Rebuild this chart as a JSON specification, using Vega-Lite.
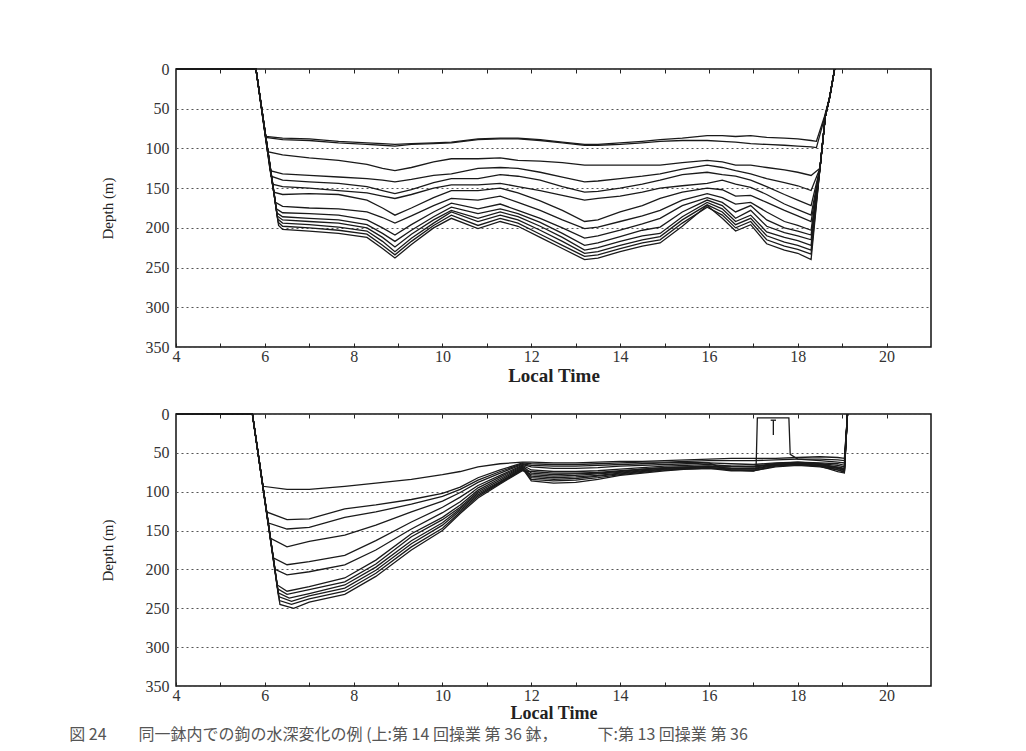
{
"$schema": "https://vega.github.io/schema/vega-lite/v6.json",
"background": "white",
"padding": {"left": 69, "top": 60, "right": 0, "bottom": 12},
"config": {
  "view": {"stroke": "#111", "strokeWidth": 1.5},
  "font": "Liberation Serif",
  "concat": {"spacing": 19},
  "axis": {"labelFont": "Liberation Serif", "labelFontSize": 16, "labelColor": "#333", "titleFont": "Liberation Serif", "titleColor": "#222"}
},
"title": {"text": "図 24　　同一鉢内での鉤の水深変化の例 (上:第 14 回操業 第 36 鉢，　　　下:第 13 回操業 第 36", "orient": "bottom", "anchor": "start", "font": "Noto Sans CJK JP", "fontSize": 16, "fontWeight": "normal", "color": "#555", "offset": 4, "dx": -30},
"datasets": {
"top": [
{"s":"T1","t":4,"d":0},{"s":"T1","t":5.8,"d":0},{"s":"T1","t":6.02,"d":85},{"s":"T1","t":6.4,"d":87},{"s":"T1","t":7,"d":88},{"s":"T1","t":7.66,"d":91},{"s":"T1","t":8.3,"d":93},{"s":"T1","t":8.65,"d":94},{"s":"T1","t":8.93,"d":95},{"s":"T1","t":9.3,"d":94},{"s":"T1","t":9.8,"d":93},{"s":"T1","t":10.2,"d":92},{"s":"T1","t":10.8,"d":88},{"s":"T1","t":11.3,"d":87},{"s":"T1","t":11.7,"d":87},{"s":"T1","t":12.2,"d":89},{"s":"T1","t":12.7,"d":92},{"s":"T1","t":13.2,"d":95},{"s":"T1","t":13.5,"d":95},{"s":"T1","t":14,"d":93},{"s":"T1","t":14.5,"d":91},{"s":"T1","t":14.9,"d":89},{"s":"T1","t":15.4,"d":87},{"s":"T1","t":15.96,"d":84},{"s":"T1","t":16.3,"d":84},{"s":"T1","t":16.6,"d":85},{"s":"T1","t":16.94,"d":84},{"s":"T1","t":17.3,"d":86},{"s":"T1","t":17.7,"d":87},{"s":"T1","t":18,"d":88},{"s":"T1","t":18.3,"d":90},{"s":"T1","t":18.42,"d":91},{"s":"T1","t":18.6,"d":60},{"s":"T1","t":18.72,"d":35},{"s":"T1","t":18.83,"d":0},
{"s":"T2","t":4,"d":0},{"s":"T2","t":5.8,"d":0},{"s":"T2","t":6.02,"d":86},{"s":"T2","t":6.4,"d":89},{"s":"T2","t":7,"d":90},{"s":"T2","t":7.66,"d":93},{"s":"T2","t":8.3,"d":95},{"s":"T2","t":8.65,"d":96},{"s":"T2","t":8.93,"d":97},{"s":"T2","t":9.3,"d":95},{"s":"T2","t":9.8,"d":94},{"s":"T2","t":10.2,"d":93},{"s":"T2","t":10.8,"d":89},{"s":"T2","t":11.3,"d":88},{"s":"T2","t":11.7,"d":88},{"s":"T2","t":12.2,"d":90},{"s":"T2","t":12.7,"d":93},{"s":"T2","t":13.2,"d":96},{"s":"T2","t":13.5,"d":96},{"s":"T2","t":14,"d":95},{"s":"T2","t":14.5,"d":93},{"s":"T2","t":14.9,"d":91},{"s":"T2","t":15.4,"d":90},{"s":"T2","t":15.96,"d":90},{"s":"T2","t":16.3,"d":91},{"s":"T2","t":16.6,"d":92},{"s":"T2","t":16.94,"d":94},{"s":"T2","t":17.3,"d":95},{"s":"T2","t":17.7,"d":96},{"s":"T2","t":18,"d":97},{"s":"T2","t":18.3,"d":98},{"s":"T2","t":18.42,"d":99},{"s":"T2","t":18.6,"d":62},{"s":"T2","t":18.72,"d":36},{"s":"T2","t":18.83,"d":0},
{"s":"T3","t":4,"d":0},{"s":"T3","t":5.8,"d":0},{"s":"T3","t":6.06,"d":104},{"s":"T3","t":6.4,"d":108},{"s":"T3","t":7,"d":112},{"s":"T3","t":7.66,"d":115},{"s":"T3","t":8.3,"d":120},{"s":"T3","t":8.65,"d":125},{"s":"T3","t":8.93,"d":128},{"s":"T3","t":9.3,"d":124},{"s":"T3","t":9.8,"d":117},{"s":"T3","t":10.2,"d":113},{"s":"T3","t":10.8,"d":113},{"s":"T3","t":11.3,"d":112},{"s":"T3","t":11.7,"d":115},{"s":"T3","t":12.2,"d":116},{"s":"T3","t":12.7,"d":118},{"s":"T3","t":13.2,"d":121},{"s":"T3","t":13.5,"d":121},{"s":"T3","t":14,"d":121},{"s":"T3","t":14.5,"d":121},{"s":"T3","t":14.9,"d":121},{"s":"T3","t":15.4,"d":118},{"s":"T3","t":15.96,"d":115},{"s":"T3","t":16.3,"d":117},{"s":"T3","t":16.6,"d":121},{"s":"T3","t":16.94,"d":121},{"s":"T3","t":17.3,"d":124},{"s":"T3","t":17.7,"d":127},{"s":"T3","t":18,"d":130},{"s":"T3","t":18.3,"d":134},{"s":"T3","t":18.5,"d":125},{"s":"T3","t":18.62,"d":60},{"s":"T3","t":18.72,"d":35},{"s":"T3","t":18.83,"d":0},
{"s":"T4","t":4,"d":0},{"s":"T4","t":5.8,"d":0},{"s":"T4","t":6.12,"d":128},{"s":"T4","t":6.4,"d":132},{"s":"T4","t":7,"d":134},{"s":"T4","t":7.66,"d":136},{"s":"T4","t":8.3,"d":138},{"s":"T4","t":8.65,"d":140},{"s":"T4","t":8.93,"d":142},{"s":"T4","t":9.3,"d":139},{"s":"T4","t":9.8,"d":134},{"s":"T4","t":10.2,"d":132},{"s":"T4","t":10.8,"d":125},{"s":"T4","t":11.3,"d":124},{"s":"T4","t":11.7,"d":125},{"s":"T4","t":12.2,"d":130},{"s":"T4","t":12.7,"d":136},{"s":"T4","t":13.2,"d":142},{"s":"T4","t":13.5,"d":141},{"s":"T4","t":14,"d":138},{"s":"T4","t":14.5,"d":135},{"s":"T4","t":14.9,"d":132},{"s":"T4","t":15.4,"d":126},{"s":"T4","t":15.96,"d":121},{"s":"T4","t":16.3,"d":124},{"s":"T4","t":16.6,"d":128},{"s":"T4","t":16.94,"d":132},{"s":"T4","t":17.3,"d":138},{"s":"T4","t":17.7,"d":143},{"s":"T4","t":18,"d":147},{"s":"T4","t":18.3,"d":153},{"s":"T4","t":18.5,"d":125},{"s":"T4","t":18.62,"d":60},{"s":"T4","t":18.72,"d":35},{"s":"T4","t":18.83,"d":0},
{"s":"T5","t":4,"d":0},{"s":"T5","t":5.8,"d":0},{"s":"T5","t":6.14,"d":135},{"s":"T5","t":6.4,"d":140},{"s":"T5","t":7,"d":142},{"s":"T5","t":7.66,"d":144},{"s":"T5","t":8.3,"d":148},{"s":"T5","t":8.65,"d":153},{"s":"T5","t":8.93,"d":157},{"s":"T5","t":9.3,"d":152},{"s":"T5","t":9.8,"d":143},{"s":"T5","t":10.2,"d":138},{"s":"T5","t":10.8,"d":138},{"s":"T5","t":11.3,"d":133},{"s":"T5","t":11.7,"d":135},{"s":"T5","t":12.2,"d":140},{"s":"T5","t":12.7,"d":148},{"s":"T5","t":13.2,"d":155},{"s":"T5","t":13.5,"d":154},{"s":"T5","t":14,"d":150},{"s":"T5","t":14.5,"d":145},{"s":"T5","t":14.9,"d":140},{"s":"T5","t":15.4,"d":133},{"s":"T5","t":15.96,"d":130},{"s":"T5","t":16.3,"d":133},{"s":"T5","t":16.6,"d":135},{"s":"T5","t":16.94,"d":140},{"s":"T5","t":17.3,"d":148},{"s":"T5","t":17.7,"d":158},{"s":"T5","t":18,"d":165},{"s":"T5","t":18.3,"d":172},{"s":"T5","t":18.5,"d":125},{"s":"T5","t":18.62,"d":60},{"s":"T5","t":18.72,"d":35},{"s":"T5","t":18.83,"d":0},
{"s":"T6","t":4,"d":0},{"s":"T6","t":5.8,"d":0},{"s":"T6","t":6.17,"d":145},{"s":"T6","t":6.4,"d":148},{"s":"T6","t":7,"d":150},{"s":"T6","t":7.66,"d":153},{"s":"T6","t":8.3,"d":156},{"s":"T6","t":8.65,"d":160},{"s":"T6","t":8.93,"d":163},{"s":"T6","t":9.3,"d":158},{"s":"T6","t":9.8,"d":150},{"s":"T6","t":10.2,"d":146},{"s":"T6","t":10.8,"d":146},{"s":"T6","t":11.3,"d":144},{"s":"T6","t":11.7,"d":148},{"s":"T6","t":12.2,"d":153},{"s":"T6","t":12.7,"d":159},{"s":"T6","t":13.2,"d":165},{"s":"T6","t":13.5,"d":163},{"s":"T6","t":14,"d":160},{"s":"T6","t":14.5,"d":155},{"s":"T6","t":14.9,"d":150},{"s":"T6","t":15.4,"d":147},{"s":"T6","t":15.96,"d":144},{"s":"T6","t":16.3,"d":140},{"s":"T6","t":16.6,"d":145},{"s":"T6","t":16.94,"d":149},{"s":"T6","t":17.3,"d":158},{"s":"T6","t":17.7,"d":170},{"s":"T6","t":18,"d":177},{"s":"T6","t":18.3,"d":184},{"s":"T6","t":18.5,"d":125},{"s":"T6","t":18.62,"d":60},{"s":"T6","t":18.72,"d":35},{"s":"T6","t":18.83,"d":0},
{"s":"T7","t":4,"d":0},{"s":"T7","t":5.8,"d":0},{"s":"T7","t":6.2,"d":155},{"s":"T7","t":6.4,"d":158},{"s":"T7","t":7,"d":157},{"s":"T7","t":7.66,"d":158},{"s":"T7","t":8.3,"d":165},{"s":"T7","t":8.65,"d":175},{"s":"T7","t":8.93,"d":184},{"s":"T7","t":9.3,"d":175},{"s":"T7","t":9.8,"d":162},{"s":"T7","t":10.2,"d":153},{"s":"T7","t":10.8,"d":153},{"s":"T7","t":11.3,"d":150},{"s":"T7","t":11.7,"d":156},{"s":"T7","t":12.2,"d":166},{"s":"T7","t":12.7,"d":178},{"s":"T7","t":13.2,"d":192},{"s":"T7","t":13.5,"d":190},{"s":"T7","t":14,"d":180},{"s":"T7","t":14.5,"d":172},{"s":"T7","t":14.9,"d":163},{"s":"T7","t":15.4,"d":155},{"s":"T7","t":15.96,"d":150},{"s":"T7","t":16.3,"d":152},{"s":"T7","t":16.6,"d":160},{"s":"T7","t":16.94,"d":159},{"s":"T7","t":17.3,"d":168},{"s":"T7","t":17.7,"d":178},{"s":"T7","t":18,"d":185},{"s":"T7","t":18.3,"d":192},{"s":"T7","t":18.5,"d":125},{"s":"T7","t":18.62,"d":60},{"s":"T7","t":18.72,"d":35},{"s":"T7","t":18.83,"d":0},
{"s":"T8","t":4,"d":0},{"s":"T8","t":5.8,"d":0},{"s":"T8","t":6.24,"d":168},{"s":"T8","t":6.4,"d":173},{"s":"T8","t":7,"d":175},{"s":"T8","t":7.66,"d":176},{"s":"T8","t":8.3,"d":180},{"s":"T8","t":8.65,"d":187},{"s":"T8","t":8.93,"d":194},{"s":"T8","t":9.3,"d":185},{"s":"T8","t":9.8,"d":172},{"s":"T8","t":10.2,"d":163},{"s":"T8","t":10.8,"d":165},{"s":"T8","t":11.3,"d":160},{"s":"T8","t":11.7,"d":168},{"s":"T8","t":12.2,"d":178},{"s":"T8","t":12.7,"d":190},{"s":"T8","t":13.2,"d":201},{"s":"T8","t":13.5,"d":199},{"s":"T8","t":14,"d":192},{"s":"T8","t":14.5,"d":185},{"s":"T8","t":14.9,"d":178},{"s":"T8","t":15.4,"d":165},{"s":"T8","t":15.96,"d":157},{"s":"T8","t":16.3,"d":162},{"s":"T8","t":16.6,"d":170},{"s":"T8","t":16.94,"d":168},{"s":"T8","t":17.3,"d":180},{"s":"T8","t":17.7,"d":192},{"s":"T8","t":18,"d":197},{"s":"T8","t":18.3,"d":203},{"s":"T8","t":18.5,"d":125},{"s":"T8","t":18.62,"d":60},{"s":"T8","t":18.72,"d":35},{"s":"T8","t":18.83,"d":0},
{"s":"T9","t":4,"d":0},{"s":"T9","t":5.8,"d":0},{"s":"T9","t":6.26,"d":176},{"s":"T9","t":6.4,"d":181},{"s":"T9","t":7,"d":182},{"s":"T9","t":7.66,"d":184},{"s":"T9","t":8.3,"d":190},{"s":"T9","t":8.65,"d":200},{"s":"T9","t":8.93,"d":209},{"s":"T9","t":9.3,"d":196},{"s":"T9","t":9.8,"d":180},{"s":"T9","t":10.2,"d":169},{"s":"T9","t":10.8,"d":176},{"s":"T9","t":11.3,"d":170},{"s":"T9","t":11.7,"d":178},{"s":"T9","t":12.2,"d":188},{"s":"T9","t":12.7,"d":200},{"s":"T9","t":13.2,"d":213},{"s":"T9","t":13.5,"d":210},{"s":"T9","t":14,"d":203},{"s":"T9","t":14.5,"d":195},{"s":"T9","t":14.9,"d":188},{"s":"T9","t":15.4,"d":172},{"s":"T9","t":15.96,"d":162},{"s":"T9","t":16.3,"d":168},{"s":"T9","t":16.6,"d":180},{"s":"T9","t":16.94,"d":172},{"s":"T9","t":17.3,"d":190},{"s":"T9","t":17.7,"d":200},{"s":"T9","t":18,"d":204},{"s":"T9","t":18.3,"d":209},{"s":"T9","t":18.5,"d":125},{"s":"T9","t":18.62,"d":60},{"s":"T9","t":18.72,"d":35},{"s":"T9","t":18.83,"d":0},
{"s":"T10","t":4,"d":0},{"s":"T10","t":5.8,"d":0},{"s":"T10","t":6.27,"d":181},{"s":"T10","t":6.4,"d":186},{"s":"T10","t":7,"d":188},{"s":"T10","t":7.66,"d":190},{"s":"T10","t":8.3,"d":196},{"s":"T10","t":8.65,"d":207},{"s":"T10","t":8.93,"d":217},{"s":"T10","t":9.3,"d":203},{"s":"T10","t":9.8,"d":186},{"s":"T10","t":10.2,"d":174},{"s":"T10","t":10.8,"d":182},{"s":"T10","t":11.3,"d":176},{"s":"T10","t":11.7,"d":182},{"s":"T10","t":12.2,"d":193},{"s":"T10","t":12.7,"d":207},{"s":"T10","t":13.2,"d":222},{"s":"T10","t":13.5,"d":219},{"s":"T10","t":14,"d":211},{"s":"T10","t":14.5,"d":203},{"s":"T10","t":14.9,"d":199},{"s":"T10","t":15.4,"d":180},{"s":"T10","t":15.96,"d":165},{"s":"T10","t":16.3,"d":172},{"s":"T10","t":16.6,"d":188},{"s":"T10","t":16.94,"d":178},{"s":"T10","t":17.3,"d":198},{"s":"T10","t":17.7,"d":206},{"s":"T10","t":18,"d":210},{"s":"T10","t":18.3,"d":215},{"s":"T10","t":18.5,"d":125},{"s":"T10","t":18.62,"d":60},{"s":"T10","t":18.72,"d":35},{"s":"T10","t":18.83,"d":0},
{"s":"T11","t":4,"d":0},{"s":"T11","t":5.8,"d":0},{"s":"T11","t":6.28,"d":185},{"s":"T11","t":6.4,"d":190},{"s":"T11","t":7,"d":192},{"s":"T11","t":7.66,"d":194},{"s":"T11","t":8.3,"d":200},{"s":"T11","t":8.65,"d":212},{"s":"T11","t":8.93,"d":224},{"s":"T11","t":9.3,"d":208},{"s":"T11","t":9.8,"d":190},{"s":"T11","t":10.2,"d":178},{"s":"T11","t":10.8,"d":188},{"s":"T11","t":11.3,"d":180},{"s":"T11","t":11.7,"d":186},{"s":"T11","t":12.2,"d":198},{"s":"T11","t":12.7,"d":212},{"s":"T11","t":13.2,"d":228},{"s":"T11","t":13.5,"d":225},{"s":"T11","t":14,"d":217},{"s":"T11","t":14.5,"d":210},{"s":"T11","t":14.9,"d":207},{"s":"T11","t":15.4,"d":186},{"s":"T11","t":15.96,"d":168},{"s":"T11","t":16.3,"d":176},{"s":"T11","t":16.6,"d":192},{"s":"T11","t":16.94,"d":184},{"s":"T11","t":17.3,"d":205},{"s":"T11","t":17.7,"d":212},{"s":"T11","t":18,"d":216},{"s":"T11","t":18.3,"d":222},{"s":"T11","t":18.5,"d":125},{"s":"T11","t":18.62,"d":60},{"s":"T11","t":18.72,"d":35},{"s":"T11","t":18.83,"d":0},
{"s":"T12","t":4,"d":0},{"s":"T12","t":5.8,"d":0},{"s":"T12","t":6.29,"d":189},{"s":"T12","t":6.4,"d":194},{"s":"T12","t":7,"d":196},{"s":"T12","t":7.66,"d":199},{"s":"T12","t":8.3,"d":204},{"s":"T12","t":8.65,"d":217},{"s":"T12","t":8.93,"d":230},{"s":"T12","t":9.3,"d":213},{"s":"T12","t":9.8,"d":194},{"s":"T12","t":10.2,"d":180},{"s":"T12","t":10.8,"d":192},{"s":"T12","t":11.3,"d":184},{"s":"T12","t":11.7,"d":190},{"s":"T12","t":12.2,"d":203},{"s":"T12","t":12.7,"d":217},{"s":"T12","t":13.2,"d":232},{"s":"T12","t":13.5,"d":230},{"s":"T12","t":14,"d":222},{"s":"T12","t":14.5,"d":215},{"s":"T12","t":14.9,"d":211},{"s":"T12","t":15.4,"d":190},{"s":"T12","t":15.96,"d":171},{"s":"T12","t":16.3,"d":180},{"s":"T12","t":16.6,"d":196},{"s":"T12","t":16.94,"d":188},{"s":"T12","t":17.3,"d":210},{"s":"T12","t":17.7,"d":218},{"s":"T12","t":18,"d":222},{"s":"T12","t":18.3,"d":228},{"s":"T12","t":18.5,"d":125},{"s":"T12","t":18.62,"d":60},{"s":"T12","t":18.72,"d":35},{"s":"T12","t":18.83,"d":0},
{"s":"T13","t":4,"d":0},{"s":"T13","t":5.8,"d":0},{"s":"T13","t":6.3,"d":193},{"s":"T13","t":6.4,"d":198},{"s":"T13","t":7,"d":200},{"s":"T13","t":7.66,"d":203},{"s":"T13","t":8.3,"d":208},{"s":"T13","t":8.65,"d":222},{"s":"T13","t":8.93,"d":234},{"s":"T13","t":9.3,"d":217},{"s":"T13","t":9.8,"d":197},{"s":"T13","t":10.2,"d":184},{"s":"T13","t":10.8,"d":197},{"s":"T13","t":11.3,"d":188},{"s":"T13","t":11.7,"d":194},{"s":"T13","t":12.2,"d":208},{"s":"T13","t":12.7,"d":222},{"s":"T13","t":13.2,"d":236},{"s":"T13","t":13.5,"d":234},{"s":"T13","t":14,"d":226},{"s":"T13","t":14.5,"d":219},{"s":"T13","t":14.9,"d":215},{"s":"T13","t":15.4,"d":194},{"s":"T13","t":15.96,"d":174},{"s":"T13","t":16.3,"d":184},{"s":"T13","t":16.6,"d":200},{"s":"T13","t":16.94,"d":192},{"s":"T13","t":17.3,"d":215},{"s":"T13","t":17.7,"d":223},{"s":"T13","t":18,"d":227},{"s":"T13","t":18.3,"d":233},{"s":"T13","t":18.5,"d":125},{"s":"T13","t":18.62,"d":60},{"s":"T13","t":18.72,"d":35},{"s":"T13","t":18.83,"d":0},
{"s":"T14","t":4,"d":0},{"s":"T14","t":5.8,"d":0},{"s":"T14","t":6.31,"d":197},{"s":"T14","t":6.4,"d":202},{"s":"T14","t":7,"d":204},{"s":"T14","t":7.66,"d":207},{"s":"T14","t":8.3,"d":212},{"s":"T14","t":8.65,"d":226},{"s":"T14","t":8.93,"d":238},{"s":"T14","t":9.3,"d":221},{"s":"T14","t":9.8,"d":200},{"s":"T14","t":10.2,"d":188},{"s":"T14","t":10.8,"d":201},{"s":"T14","t":11.3,"d":192},{"s":"T14","t":11.7,"d":198},{"s":"T14","t":12.2,"d":212},{"s":"T14","t":12.7,"d":226},{"s":"T14","t":13.2,"d":240},{"s":"T14","t":13.5,"d":238},{"s":"T14","t":14,"d":230},{"s":"T14","t":14.5,"d":223},{"s":"T14","t":14.9,"d":219},{"s":"T14","t":15.4,"d":198},{"s":"T14","t":15.96,"d":172},{"s":"T14","t":16.3,"d":188},{"s":"T14","t":16.6,"d":204},{"s":"T14","t":16.94,"d":196},{"s":"T14","t":17.3,"d":220},{"s":"T14","t":17.7,"d":228},{"s":"T14","t":18,"d":232},{"s":"T14","t":18.3,"d":240},{"s":"T14","t":18.5,"d":125},{"s":"T14","t":18.62,"d":60},{"s":"T14","t":18.72,"d":35},{"s":"T14","t":18.83,"d":0}
],
"bot": [
{"s":"B1","t":4,"d":0},{"s":"B1","t":5.72,"d":0},{"s":"B1","t":5.96,"d":93},{"s":"B1","t":6.5,"d":97},{"s":"B1","t":7,"d":97},{"s":"B1","t":7.8,"d":93},{"s":"B1","t":8.5,"d":89},{"s":"B1","t":9.3,"d":84},{"s":"B1","t":10,"d":78},{"s":"B1","t":10.4,"d":74},{"s":"B1","t":10.8,"d":68},{"s":"B1","t":11.3,"d":64},{"s":"B1","t":11.8,"d":62},{"s":"B1","t":12,"d":62},{"s":"B1","t":12.5,"d":63},{"s":"B1","t":13,"d":63},{"s":"B1","t":13.5,"d":62},{"s":"B1","t":14,"d":61},{"s":"B1","t":14.5,"d":61},{"s":"B1","t":15,"d":60},{"s":"B1","t":15.5,"d":59},{"s":"B1","t":16,"d":58},{"s":"B1","t":16.5,"d":57},{"s":"B1","t":17,"d":57},{"s":"B1","t":17.5,"d":57},{"s":"B1","t":18,"d":56},{"s":"B1","t":18.5,"d":55},{"s":"B1","t":18.9,"d":56},{"s":"B1","t":19.05,"d":57},{"s":"B1","t":19.12,"d":0},
{"s":"B2","t":4,"d":0},{"s":"B2","t":5.72,"d":0},{"s":"B2","t":6.04,"d":126},{"s":"B2","t":6.5,"d":136},{"s":"B2","t":7,"d":135},{"s":"B2","t":7.8,"d":122},{"s":"B2","t":8.5,"d":117},{"s":"B2","t":9.3,"d":110},{"s":"B2","t":10,"d":102},{"s":"B2","t":10.4,"d":94},{"s":"B2","t":10.8,"d":82},{"s":"B2","t":11.3,"d":72},{"s":"B2","t":11.8,"d":63},{"s":"B2","t":12,"d":64},{"s":"B2","t":12.5,"d":65},{"s":"B2","t":13,"d":65},{"s":"B2","t":13.5,"d":64},{"s":"B2","t":14,"d":63},{"s":"B2","t":14.5,"d":62},{"s":"B2","t":15,"d":62},{"s":"B2","t":15.5,"d":61},{"s":"B2","t":16,"d":60},{"s":"B2","t":16.5,"d":60},{"s":"B2","t":17,"d":60},{"s":"B2","t":17.5,"d":59},{"s":"B2","t":18,"d":58},{"s":"B2","t":18.5,"d":58},{"s":"B2","t":18.9,"d":59},{"s":"B2","t":19.05,"d":60},{"s":"B2","t":19.12,"d":0},
{"s":"B3","t":4,"d":0},{"s":"B3","t":5.72,"d":0},{"s":"B3","t":6.07,"d":140},{"s":"B3","t":6.5,"d":148},{"s":"B3","t":7,"d":146},{"s":"B3","t":7.8,"d":133},{"s":"B3","t":8.5,"d":126},{"s":"B3","t":9.3,"d":116},{"s":"B3","t":10,"d":106},{"s":"B3","t":10.4,"d":97},{"s":"B3","t":10.8,"d":85},{"s":"B3","t":11.3,"d":74},{"s":"B3","t":11.8,"d":64},{"s":"B3","t":12,"d":66},{"s":"B3","t":12.5,"d":67},{"s":"B3","t":13,"d":67},{"s":"B3","t":13.5,"d":66},{"s":"B3","t":14,"d":65},{"s":"B3","t":14.5,"d":64},{"s":"B3","t":15,"d":63},{"s":"B3","t":15.5,"d":62},{"s":"B3","t":16,"d":63},{"s":"B3","t":16.4,"d":72},{"s":"B3","t":17,"d":73},{"s":"B3","t":17.06,"d":72},{"s":"B3","t":17.09,"d":5},{"s":"B3","t":17.8,"d":5},{"s":"B3","t":17.83,"d":52},{"s":"B3","t":18,"d":58},{"s":"B3","t":18.5,"d":60},{"s":"B3","t":18.9,"d":62},{"s":"B3","t":19.05,"d":63},{"s":"B3","t":19.12,"d":0},
{"s":"B4","t":4,"d":0},{"s":"B4","t":5.72,"d":0},{"s":"B4","t":6.13,"d":160},{"s":"B4","t":6.5,"d":171},{"s":"B4","t":7,"d":164},{"s":"B4","t":7.8,"d":156},{"s":"B4","t":8.5,"d":143},{"s":"B4","t":9.3,"d":126},{"s":"B4","t":10,"d":112},{"s":"B4","t":10.4,"d":101},{"s":"B4","t":10.8,"d":88},{"s":"B4","t":11.3,"d":76},{"s":"B4","t":11.8,"d":65},{"s":"B4","t":12,"d":68},{"s":"B4","t":12.5,"d":70},{"s":"B4","t":13,"d":70},{"s":"B4","t":13.5,"d":69},{"s":"B4","t":14,"d":67},{"s":"B4","t":14.5,"d":66},{"s":"B4","t":15,"d":65},{"s":"B4","t":15.5,"d":64},{"s":"B4","t":16,"d":63},{"s":"B4","t":16.5,"d":64},{"s":"B4","t":17,"d":65},{"s":"B4","t":17.5,"d":63},{"s":"B4","t":18,"d":62},{"s":"B4","t":18.5,"d":63},{"s":"B4","t":18.9,"d":64},{"s":"B4","t":19.05,"d":66},{"s":"B4","t":19.12,"d":0},
{"s":"B5","t":4,"d":0},{"s":"B5","t":5.72,"d":0},{"s":"B5","t":6.19,"d":185},{"s":"B5","t":6.5,"d":194},{"s":"B5","t":7,"d":190},{"s":"B5","t":7.8,"d":182},{"s":"B5","t":8.5,"d":163},{"s":"B5","t":9.3,"d":139},{"s":"B5","t":10,"d":120},{"s":"B5","t":10.4,"d":107},{"s":"B5","t":10.8,"d":92},{"s":"B5","t":11.3,"d":79},{"s":"B5","t":11.8,"d":66},{"s":"B5","t":12,"d":72},{"s":"B5","t":12.5,"d":74},{"s":"B5","t":13,"d":74},{"s":"B5","t":13.5,"d":73},{"s":"B5","t":14,"d":71},{"s":"B5","t":14.5,"d":69},{"s":"B5","t":15,"d":67},{"s":"B5","t":15.5,"d":66},{"s":"B5","t":16,"d":65},{"s":"B5","t":16.5,"d":67},{"s":"B5","t":17,"d":68},{"s":"B5","t":17.5,"d":65},{"s":"B5","t":18,"d":63},{"s":"B5","t":18.5,"d":64},{"s":"B5","t":18.9,"d":66},{"s":"B5","t":19.05,"d":68},{"s":"B5","t":19.12,"d":0},
{"s":"B6","t":4,"d":0},{"s":"B6","t":5.72,"d":0},{"s":"B6","t":6.23,"d":200},{"s":"B6","t":6.5,"d":207},{"s":"B6","t":7,"d":203},{"s":"B6","t":7.8,"d":194},{"s":"B6","t":8.5,"d":175},{"s":"B6","t":9.3,"d":148},{"s":"B6","t":10,"d":127},{"s":"B6","t":10.4,"d":113},{"s":"B6","t":10.8,"d":95},{"s":"B6","t":11.3,"d":81},{"s":"B6","t":11.8,"d":67},{"s":"B6","t":12,"d":76},{"s":"B6","t":12.5,"d":78},{"s":"B6","t":13,"d":77},{"s":"B6","t":13.5,"d":76},{"s":"B6","t":14,"d":74},{"s":"B6","t":14.5,"d":71},{"s":"B6","t":15,"d":69},{"s":"B6","t":15.5,"d":68},{"s":"B6","t":16,"d":67},{"s":"B6","t":16.5,"d":70},{"s":"B6","t":17,"d":71},{"s":"B6","t":17.5,"d":66},{"s":"B6","t":18,"d":64},{"s":"B6","t":18.5,"d":66},{"s":"B6","t":18.9,"d":68},{"s":"B6","t":19.05,"d":70},{"s":"B6","t":19.12,"d":0},
{"s":"B7","t":4,"d":0},{"s":"B7","t":5.72,"d":0},{"s":"B7","t":6.28,"d":220},{"s":"B7","t":6.5,"d":228},{"s":"B7","t":7,"d":222},{"s":"B7","t":7.8,"d":211},{"s":"B7","t":8.5,"d":188},{"s":"B7","t":9.3,"d":154},{"s":"B7","t":10,"d":133},{"s":"B7","t":10.4,"d":117},{"s":"B7","t":10.8,"d":98},{"s":"B7","t":11.3,"d":83},{"s":"B7","t":11.8,"d":68},{"s":"B7","t":12,"d":80},{"s":"B7","t":12.5,"d":82},{"s":"B7","t":13,"d":81},{"s":"B7","t":13.5,"d":79},{"s":"B7","t":14,"d":76},{"s":"B7","t":14.5,"d":73},{"s":"B7","t":15,"d":71},{"s":"B7","t":15.5,"d":70},{"s":"B7","t":16,"d":69},{"s":"B7","t":16.5,"d":72},{"s":"B7","t":17,"d":73},{"s":"B7","t":17.5,"d":67},{"s":"B7","t":18,"d":65},{"s":"B7","t":18.5,"d":67},{"s":"B7","t":18.9,"d":70},{"s":"B7","t":19.05,"d":72},{"s":"B7","t":19.12,"d":0},
{"s":"B8","t":4,"d":0},{"s":"B8","t":5.72,"d":0},{"s":"B8","t":6.29,"d":225},{"s":"B8","t":6.5,"d":232},{"s":"B8","t":7,"d":226},{"s":"B8","t":7.8,"d":216},{"s":"B8","t":8.5,"d":193},{"s":"B8","t":9.3,"d":158},{"s":"B8","t":10,"d":136},{"s":"B8","t":10.4,"d":120},{"s":"B8","t":10.8,"d":100},{"s":"B8","t":11.3,"d":85},{"s":"B8","t":11.8,"d":69},{"s":"B8","t":12,"d":84},{"s":"B8","t":12.5,"d":86},{"s":"B8","t":13,"d":85},{"s":"B8","t":13.5,"d":82},{"s":"B8","t":14,"d":78},{"s":"B8","t":14.5,"d":75},{"s":"B8","t":15,"d":72},{"s":"B8","t":15.5,"d":71},{"s":"B8","t":16,"d":70},{"s":"B8","t":16.5,"d":73},{"s":"B8","t":17,"d":73},{"s":"B8","t":17.5,"d":68},{"s":"B8","t":18,"d":66},{"s":"B8","t":18.5,"d":68},{"s":"B8","t":18.9,"d":72},{"s":"B8","t":19.05,"d":74},{"s":"B8","t":19.12,"d":0},
{"s":"B9","t":4,"d":0},{"s":"B9","t":5.72,"d":0},{"s":"B9","t":6.3,"d":230},{"s":"B9","t":6.55,"d":237},{"s":"B9","t":7,"d":231},{"s":"B9","t":7.8,"d":220},{"s":"B9","t":8.5,"d":197},{"s":"B9","t":9.3,"d":163},{"s":"B9","t":10,"d":140},{"s":"B9","t":10.4,"d":122},{"s":"B9","t":10.8,"d":102},{"s":"B9","t":11.3,"d":87},{"s":"B9","t":11.8,"d":70},{"s":"B9","t":12,"d":86},{"s":"B9","t":12.5,"d":89},{"s":"B9","t":13,"d":88},{"s":"B9","t":13.5,"d":84},{"s":"B9","t":14,"d":79},{"s":"B9","t":14.5,"d":76},{"s":"B9","t":15,"d":73},{"s":"B9","t":15.5,"d":71},{"s":"B9","t":16,"d":70},{"s":"B9","t":16.5,"d":71},{"s":"B9","t":17,"d":71},{"s":"B9","t":17.5,"d":66},{"s":"B9","t":18,"d":65},{"s":"B9","t":18.5,"d":67},{"s":"B9","t":18.9,"d":74},{"s":"B9","t":19.05,"d":76},{"s":"B9","t":19.12,"d":0},
{"s":"B10","t":4,"d":0},{"s":"B10","t":5.72,"d":0},{"s":"B10","t":6.31,"d":235},{"s":"B10","t":6.6,"d":241},{"s":"B10","t":7,"d":234},{"s":"B10","t":7.8,"d":224},{"s":"B10","t":8.5,"d":201},{"s":"B10","t":9.3,"d":167},{"s":"B10","t":10,"d":143},{"s":"B10","t":10.4,"d":124},{"s":"B10","t":10.8,"d":104},{"s":"B10","t":11.3,"d":88},{"s":"B10","t":11.8,"d":71},{"s":"B10","t":12,"d":82},{"s":"B10","t":12.5,"d":84},{"s":"B10","t":13,"d":83},{"s":"B10","t":13.5,"d":80},{"s":"B10","t":14,"d":77},{"s":"B10","t":14.5,"d":74},{"s":"B10","t":15,"d":71},{"s":"B10","t":15.5,"d":70},{"s":"B10","t":16,"d":69},{"s":"B10","t":16.5,"d":70},{"s":"B10","t":17,"d":70},{"s":"B10","t":17.5,"d":65},{"s":"B10","t":18,"d":64},{"s":"B10","t":18.5,"d":66},{"s":"B10","t":18.9,"d":72},{"s":"B10","t":19.05,"d":75},{"s":"B10","t":19.12,"d":0},
{"s":"B11","t":4,"d":0},{"s":"B11","t":5.72,"d":0},{"s":"B11","t":6.33,"d":240},{"s":"B11","t":6.6,"d":245},{"s":"B11","t":7,"d":238},{"s":"B11","t":7.8,"d":228},{"s":"B11","t":8.5,"d":205},{"s":"B11","t":9.3,"d":171},{"s":"B11","t":10,"d":147},{"s":"B11","t":10.4,"d":126},{"s":"B11","t":10.8,"d":106},{"s":"B11","t":11.3,"d":89},{"s":"B11","t":11.8,"d":72},{"s":"B11","t":12,"d":78},{"s":"B11","t":12.5,"d":80},{"s":"B11","t":13,"d":79},{"s":"B11","t":13.5,"d":77},{"s":"B11","t":14,"d":75},{"s":"B11","t":14.5,"d":72},{"s":"B11","t":15,"d":70},{"s":"B11","t":15.5,"d":69},{"s":"B11","t":16,"d":68},{"s":"B11","t":16.5,"d":68},{"s":"B11","t":17,"d":68},{"s":"B11","t":17.5,"d":64},{"s":"B11","t":18,"d":63},{"s":"B11","t":18.5,"d":65},{"s":"B11","t":18.9,"d":70},{"s":"B11","t":19.05,"d":73},{"s":"B11","t":19.12,"d":0},
{"s":"B12","t":4,"d":0},{"s":"B12","t":5.72,"d":0},{"s":"B12","t":6.34,"d":245},{"s":"B12","t":6.65,"d":250},{"s":"B12","t":7,"d":242},{"s":"B12","t":7.8,"d":232},{"s":"B12","t":8.5,"d":209},{"s":"B12","t":9.3,"d":175},{"s":"B12","t":10,"d":150},{"s":"B12","t":10.4,"d":128},{"s":"B12","t":10.8,"d":108},{"s":"B12","t":11.3,"d":90},{"s":"B12","t":11.8,"d":73},{"s":"B12","t":12,"d":74},{"s":"B12","t":12.5,"d":76},{"s":"B12","t":13,"d":76},{"s":"B12","t":13.5,"d":75},{"s":"B12","t":14,"d":73},{"s":"B12","t":14.5,"d":71},{"s":"B12","t":15,"d":69},{"s":"B12","t":15.5,"d":68},{"s":"B12","t":16,"d":67},{"s":"B12","t":16.5,"d":67},{"s":"B12","t":17,"d":67},{"s":"B12","t":17.5,"d":64},{"s":"B12","t":18,"d":62},{"s":"B12","t":18.5,"d":64},{"s":"B12","t":18.9,"d":69},{"s":"B12","t":19.05,"d":71},{"s":"B12","t":19.12,"d":0},
{"s":"Tbar","t":17.39,"d":8},{"s":"Tbar","t":17.51,"d":8},
{"s":"Tstem","t":17.45,"d":8},{"s":"Tstem","t":17.451,"d":27}
]
},
"vconcat": [
{
  "width": 755, "height": 278,
  "data": {"name": "top"},
  "layer": [
    {
      "mark": {"type": "line", "color": "#1a1a1a", "strokeWidth": 1.3},
      "encoding": {
        "x": {"field": "t", "type": "quantitative", "scale": {"domain": [4, 21], "nice": false, "zero": false},
              "axis": {"values": [4,5,6,7,8,9,10,11,12,13,14,15,16,17,18,19,20], "labelExpr": "datum.value % 2 == 0 ? datum.label : ''", "tickSize": -4, "tickColor": "#222", "labelPadding": 5, "domain": false, "grid": false, "labelFlush": false, "title": "Local Time", "titleFontWeight": "bold", "titleFontSize": 19, "titlePadding": 2}},
        "y": {"field": "d", "type": "quantitative", "scale": {"domain": [0, 350], "reverse": true, "nice": false, "zero": false},
              "axis": {"values": [0,50,100,150,200,250,300,350], "ticks": false, "labelPadding": 7, "domain": false, "grid": true, "gridDash": [2,3], "gridColor": "#555", "gridWidth": 1, "title": "Depth (m)", "titleFontSize": 15, "titleFontWeight": "normal", "titlePadding": 30}},
        "detail": {"field": "s"}
      }
    },
    {
      "mark": {"type": "point", "opacity": 0},
      "encoding": {
        "x": {"field": "t", "type": "quantitative", "axis": {"orient": "top", "values": [5,6,7,8,9,10,11,12,13,14,15,16,17,18,19,20], "labels": false, "tickSize": -4, "tickColor": "#222", "domain": false, "grid": false, "title": null}}
      }
    }
  ],
  "resolve": {"axis": {"x": "independent"}}
},
{
  "width": 755, "height": 272,
  "data": {"name": "bot"},
  "layer": [
    {
      "mark": {"type": "line", "color": "#1a1a1a", "strokeWidth": 1.3},
      "encoding": {
        "x": {"field": "t", "type": "quantitative", "scale": {"domain": [4, 21], "nice": false, "zero": false},
              "axis": {"values": [4,5,6,7,8,9,10,11,12,13,14,15,16,17,18,19,20], "labelExpr": "datum.value % 2 == 0 ? datum.label : ''", "tickSize": -4, "tickColor": "#222", "labelPadding": 5, "domain": false, "grid": false, "labelFlush": false, "title": "Local Time", "titleFontWeight": "bold", "titleFontSize": 18, "titlePadding": 1}},
        "y": {"field": "d", "type": "quantitative", "scale": {"domain": [0, 350], "reverse": true, "nice": false, "zero": false},
              "axis": {"values": [0,50,100,150,200,250,300,350], "ticks": false, "labelPadding": 7, "domain": false, "grid": true, "gridDash": [2,3], "gridColor": "#555", "gridWidth": 1, "title": "Depth (m)", "titleFontSize": 15, "titleFontWeight": "normal", "titlePadding": 30}},
        "detail": {"field": "s"}
      }
    },
    {
      "mark": {"type": "point", "opacity": 0},
      "encoding": {
        "x": {"field": "t", "type": "quantitative", "axis": {"orient": "top", "values": [5,6,7,8,9,10,11,12,13,14,15,16,17,18,19,20], "labels": false, "tickSize": -4, "tickColor": "#222", "domain": false, "grid": false, "title": null}}
      }
    }
  ],
  "resolve": {"axis": {"x": "independent"}}
}
]
}
